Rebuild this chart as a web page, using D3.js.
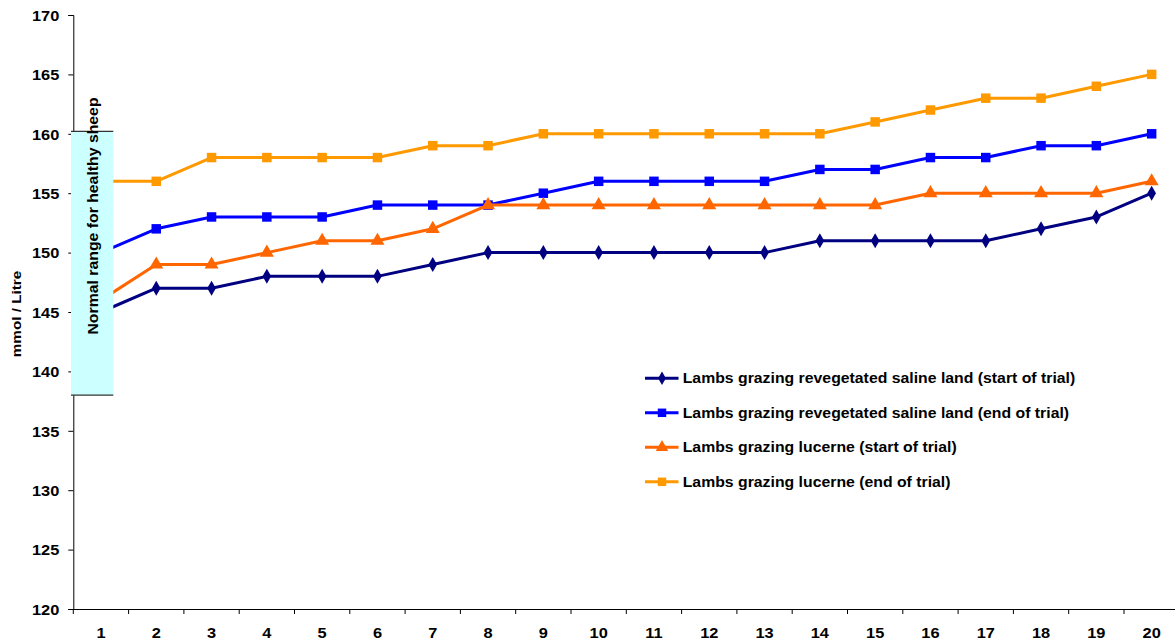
<!DOCTYPE html>
<html>
<head>
<meta charset="utf-8">
<script src="https://cdn.jsdelivr.net/npm/d3@7"></script>
<style>
  html, body { margin: 0; padding: 0; background: #fff; overflow: hidden; }
  svg { display: block; }
  text { font-family: "Liberation Sans", Arial, sans-serif; font-weight: bold; fill: #000; }
</style>
</head>
<body>
<svg id="chart" width="1175" height="643"></svg>
<script>
// Sheep identifiers along the x axis
const categories = d3.range(1, 21).map(String);

// Plasma sodium, mmol / Litre
const salineStart  = [145,147,147,148,148,148,149,150,150,150,150,150,150,151,151,151,151,152,153,155];
const salineEnd    = [150,152,153,153,153,154,154,154,155,156,156,156,156,157,157,158,158,159,159,160];
const lucerneStart = [146,149,149,150,151,151,152,154,154,154,154,154,154,154,154,155,155,155,155,156];
const lucerneEnd   = [156,156,158,158,158,158,159,159,160,160,160,160,160,160,161,162,163,163,164,165];

const seriesNames = [
  "Lambs grazing revegetated saline land (start of trial)",
  "Lambs grazing revegetated saline land (end of trial)",
  "Lambs grazing lucerne (start of trial)",
  "Lambs grazing lucerne (end of trial)"
];

const yTicks = [120,125,130,135,140,145,150,155,160,165,170];
const normalRange = [138, 160.2];

const series = [
  { name: seriesNames[0], values: salineStart,  color: "#000080", symbol: d3.symbolDiamond,  size: 65 },
  { name: seriesNames[1], values: salineEnd,    color: "#0000ff", symbol: d3.symbolSquare,   size: 90 },
  { name: seriesNames[2], values: lucerneStart, color: "#ff6600", symbol: d3.symbolTriangle, size: 85 },
  { name: seriesNames[3], values: lucerneEnd,   color: "#ff9900", symbol: d3.symbolSquare,   size: 90 }
];

// text is drawn slightly widened along its own direction
const WIDEN = 1.13;

const svg = d3.select("#chart");
const plotLeft = 73.3, plotTop = 15, plotBottom = 609;
const step = 55.3;
const plotRight = plotLeft + step * categories.length;

const x = d3.scaleBand().domain(categories).range([plotLeft, plotRight]).padding(0);
const y = d3.scaleLinear().domain([120, 170]).range([plotBottom, plotTop]);

// y axis
const yAxis = svg.append("g")
  .attr("transform", `translate(${plotLeft},0)`)
  .call(d3.axisLeft(y).tickValues(yTicks).tickSize(5).tickPadding(9).tickFormat(d3.format("d")));
yAxis.selectAll("path, line").attr("stroke", "#000").attr("stroke-width", 1);
yAxis.selectAll("text")
  .attr("x", 0)
  .attr("dy", "0.36em")
  .attr("transform", `translate(-14,0) scale(${WIDEN},1)`)
  .style("font-size", "14.5px").style("font-family", "Liberation Sans, Arial, sans-serif").style("font-weight", "bold");

// x axis: labels centred in each band, ticks on band boundaries
const xAxis = svg.append("g")
  .attr("transform", `translate(0,${plotBottom})`)
  .call(d3.axisBottom(x).tickSize(0));
xAxis.select(".domain").attr("stroke", "#000").attr("stroke-width", 1);
xAxis.selectAll("text")
  .attr("y", 0).attr("dy", 0)
  .attr("transform", `translate(0,29) scale(${WIDEN},1)`)
  .style("font-size", "14.5px").style("font-family", "Liberation Sans, Arial, sans-serif").style("font-weight", "bold");
xAxis.selectAll(".bound")
  .data(d3.range(categories.length + 1))
  .join("line")
  .attr("class", "bound")
  .attr("x1", i => plotLeft + i * x.step())
  .attr("x2", i => plotLeft + i * x.step())
  .attr("y1", 0).attr("y2", 5)
  .attr("stroke", "#000");

// axis title
svg.append("text")
  .attr("transform", `translate(20.5,${(plotTop + plotBottom) / 2 + 2}) rotate(-90) scale(${WIDEN},1)`)
  .attr("text-anchor", "middle")
  .style("font-size", "13.5px")
  .text("mmol / Litre");

// series lines and markers
const line = d3.line()
  .x((d, i) => x(categories[i]) + x.bandwidth() / 2)
  .y(d => y(d));

series.forEach(s => {
  svg.append("path")
    .datum(s.values)
    .attr("fill", "none")
    .attr("stroke", s.color)
    .attr("stroke-width", 3)
    .attr("stroke-linejoin", "round")
    .attr("d", line);
  svg.append("g").selectAll("path")
    .data(s.values)
    .join("path")
    .attr("transform", (d, i) => `translate(${x(categories[i]) + x.bandwidth() / 2},${y(d)})`)
    .attr("d", d3.symbol().type(s.symbol).size(s.size))
    .attr("fill", s.color);
});

// normal range band over the first sheep
const bandG = svg.append("g");
const bx0 = 71, bx1 = 113.3;
bandG.append("rect")
  .attr("x", bx0).attr("y", y(normalRange[1]))
  .attr("width", bx1 - bx0).attr("height", y(normalRange[0]) - y(normalRange[1]))
  .attr("fill", "#ccffff");
[normalRange[0], normalRange[1]].forEach(v => {
  bandG.append("line")
    .attr("x1", bx0).attr("x2", bx1)
    .attr("y1", y(v)).attr("y2", y(v))
    .attr("stroke", "#333").attr("stroke-width", 1.2);
});
bandG.append("text")
  .attr("transform", `translate(98.3,216) rotate(-90) scale(${WIDEN},1)`)
  .attr("text-anchor", "middle")
  .style("font-size", "14px")
  .text("Normal range for healthy sheep");

// legend
const legend = svg.append("g").attr("transform", "translate(645,378.3)");
series.forEach((s, i) => {
  const g = legend.append("g").attr("transform", `translate(0,${i * 34.5})`);
  g.append("line").attr("x1", 0).attr("x2", 33.5).attr("y1", 0).attr("y2", 0)
    .attr("stroke", s.color).attr("stroke-width", 3);
  g.append("path").attr("transform", "translate(17,0)")
    .attr("d", d3.symbol().type(s.symbol).size(s.size * 0.8))
    .attr("fill", s.color);
  g.append("text")
    .attr("transform", `translate(37.7,5) scale(${WIDEN},1)`)
    .style("font-size", "14px")
    .text(s.name);
});
</script>
</body>
</html>
